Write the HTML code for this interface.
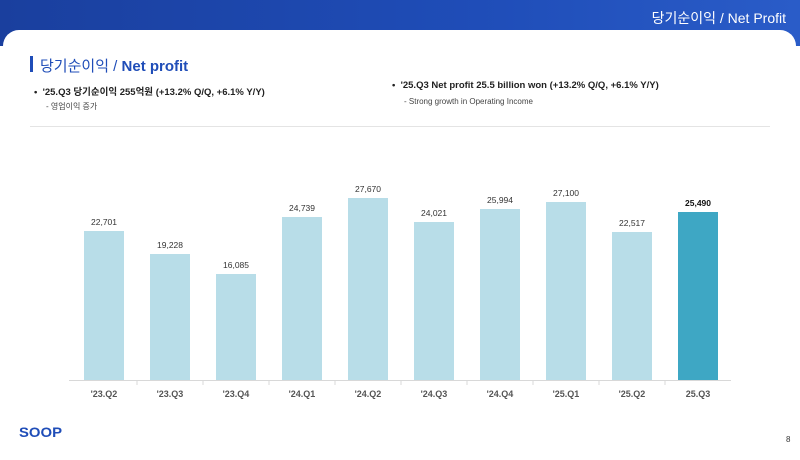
<!DOCTYPE html>
<html><head><meta charset="utf-8"><style>
body{margin:0;width:800px;height:450px;overflow:hidden;background:#fff;font-family:"Liberation Sans","Noto Sans CJK KR",sans-serif;position:relative}
.band{position:absolute;left:0;top:0;width:800px;height:46px;background:linear-gradient(90deg,#1a3f9e,#1f4db8 60%,#2a5cc8)}
.card{position:absolute;left:3px;top:30px;width:793px;height:430px;background:#fff;border-radius:16px 16px 0 0}
.t{position:absolute;white-space:nowrap}
</style></head><body>
<div class="band"></div>
<div class="t" style="right:14px;top:8px;color:#fff;font-size:14px">당기순이익 / Net Profit</div>
<div class="card"></div>
<div style="position:absolute;left:30px;top:56px;width:3px;height:16px;background:#1f4db8"></div>
<div class="t" style="left:40px;top:55px;font-size:15px;color:#1f4db8">당기순이익 / <b>Net profit</b></div>
<div class="t" style="left:34px;top:84px;font-size:9.5px;font-weight:bold;color:#222">•&nbsp; '25.Q3 당기순이익 255억원 (+13.2% Q/Q, +6.1% Y/Y)</div>
<div class="t" style="left:46px;top:101px;font-size:8px;color:#444">- 영업이익 증가</div>
<div class="t" style="left:392px;top:80px;font-size:9.5px;font-weight:bold;color:#222">•&nbsp; '25.Q3 Net profit 25.5 billion won (+13.2% Q/Q, +6.1% Y/Y)</div>
<div class="t" style="left:404px;top:97px;font-size:8px;color:#444">- Strong growth in Operating Income</div>
<div style="position:absolute;left:30px;top:126px;width:740px;height:1px;background:#e4e4e4"></div>
<svg width="800" height="450" style="position:absolute;left:0;top:0" font-family="Liberation Sans, sans-serif">
<line x1="69" y1="380.5" x2="731" y2="380.5" stroke="#d8d8d8"/>
<g stroke="#d8d8d8">
<line x1="137" y1="380" x2="137" y2="385"/><line x1="203" y1="380" x2="203" y2="385"/><line x1="269" y1="380" x2="269" y2="385"/><line x1="335" y1="380" x2="335" y2="385"/><line x1="401" y1="380" x2="401" y2="385"/><line x1="467" y1="380" x2="467" y2="385"/><line x1="533" y1="380" x2="533" y2="385"/><line x1="599" y1="380" x2="599" y2="385"/><line x1="665" y1="380" x2="665" y2="385"/>
</g>
<g fill="#b8dde8">
<rect x="84" y="231" width="40" height="149"/>
<rect x="150" y="254" width="40" height="126"/>
<rect x="216" y="274" width="40" height="106"/>
<rect x="282" y="217" width="40" height="163"/>
<rect x="348" y="198" width="40" height="182"/>
<rect x="414" y="222" width="40" height="158"/>
<rect x="480" y="209" width="40" height="171"/>
<rect x="546" y="202" width="40" height="178"/>
<rect x="612" y="232" width="40" height="148"/>
</g>
<rect x="678" y="212" width="40" height="168" fill="#3ea7c4"/>
<g font-size="8.5" fill="#333" text-anchor="middle">
<text x="104" y="225">22,701</text><text x="170" y="248">19,228</text><text x="236" y="268">16,085</text><text x="302" y="211">24,739</text><text x="368" y="192">27,670</text><text x="434" y="216">24,021</text><text x="500" y="203">25,994</text><text x="566" y="196">27,100</text><text x="632" y="226">22,517</text>
<text x="698" y="206" font-weight="bold" fill="#111">25,490</text>
</g>
<g font-size="9" fill="#555" font-weight="bold" text-anchor="middle">
<text x="104" y="397">'23.Q2</text><text x="170" y="397">'23.Q3</text><text x="236" y="397">'23.Q4</text><text x="302" y="397">'24.Q1</text><text x="368" y="397">'24.Q2</text><text x="434" y="397">'24.Q3</text><text x="500" y="397">'24.Q4</text><text x="566" y="397">'25.Q1</text><text x="632" y="397">'25.Q2</text><text x="698" y="397">25.Q3</text>
</g>
<text x="19" y="437" font-size="14" font-weight="bold" fill="#1f4db8" textLength="43" lengthAdjust="spacingAndGlyphs">SOOP</text>
<text x="786" y="442" font-size="8" fill="#333">8</text>
</svg>
</body></html>
